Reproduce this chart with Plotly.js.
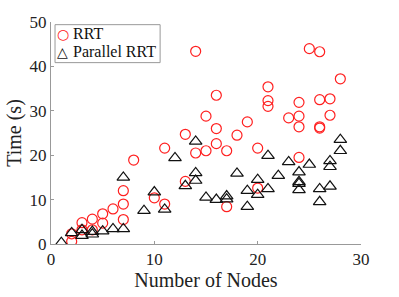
<!DOCTYPE html>
<html>
<head>
<meta charset="utf-8">
<script src="https://cdn.plot.ly/plotly-3.0.1.min.js"></script>
<style>html,body{margin:0;padding:0;background:#fff;}#chart{width:399px;height:297px;}</style>
</head>
<body>
<div id="chart"></div>
<script>
const rrtNodes = [2,2,3,3,4,4,5,5,6,7,7,7,8,10,11,11,13,13,14,14,15,15,16,16,16,17,17,18,19,20,20,21,21,21,23,24,24,24,24,25,26,26,26,26,27,27,28];
const rrtTime  = [0.6,2.3,4.8,3.2,5.6,3.2,6.8,4.7,7.9,12.0,9.0,5.5,18.9,10.4,21.6,9.0,24.7,14.1,43.4,20.5,28.8,21.0,33.5,26.0,22.6,21.0,8.4,24.5,27.5,21.6,12.6,35.4,32.3,31.0,28.4,31.9,28.8,26.4,19.5,44.0,43.3,32.5,26.4,26.1,32.7,29.0,37.2];
const parNodes = [1,2,3,3,4,4,5,6,7,7,9,10,11,12,13,14,14,14,15,16,17,17,18,19,19,20,20,21,21,22,23,24,24,24,24,25,26,26,27,27,27,28,28];
const parTime  = [0.3,2.5,3.2,1.9,2.8,2.2,2.9,3.4,3.4,15.0,7.5,11.7,7.8,19.4,13.1,23.1,16.0,14.3,10.5,10.0,10.8,10.1,15.9,12.0,8.4,14.5,11.1,19.9,12.4,15.4,18.5,16.2,14.0,13.6,12.2,17.9,12.4,9.5,18.7,17.4,13.0,23.5,21.0];
const xTicks = [0,10,20,30];
const yTicks = [0,10,20,30,40,50];
const seriesNames = ['RRT','Parallel RRT'];
const seriesColors = ['#ff2020','#111111'];
const legendGlyphs = ['\u25CB','\u25B3'];

const font = 'Liberation Serif, DejaVu Serif, serif';
const traces = [
  {x: rrtNodes, y: rrtTime, name: seriesNames[0], mode: 'markers', type: 'scatter',
   marker: {symbol: 'circle-open', size: 10, color: seriesColors[0], line: {width: 1.2, color: seriesColors[0]}}},
  {x: parNodes, y: parTime, name: seriesNames[1], mode: 'markers', type: 'scatter',
   marker: {symbol: 'triangle-up-open', size: 11, color: seriesColors[1], line: {width: 1.2, color: seriesColors[1]}}}
];
const axisCommon = {
  showgrid: false, zeroline: false, showline: true, linecolor: '#999', linewidth: 1,
  ticks: 'inside', ticklen: 3, tickcolor: '#999', mirror: false,
  tickfont: {family: font, size: 17, color: '#222'}
};
// legend drawn as a box with text entries (layout only)
const rowY = [0.948, 0.867];
const annotations = [];
seriesNames.forEach((n, i) => {
  annotations.push({xref: 'paper', yref: 'paper', x: 0.038, y: rowY[i], xanchor: 'center', yanchor: 'middle',
    text: legendGlyphs[i], showarrow: false, font: {family: 'DejaVu Sans', size: 14, color: seriesColors[i]}});
  annotations.push({xref: 'paper', yref: 'paper', x: 0.066, y: rowY[i], xanchor: 'left', yanchor: 'middle',
    text: n, showarrow: false, font: {family: font, size: 16, color: '#111'}});
});
const layout = {
  width: 399, height: 297,
  margin: {l: 51, r: 38, t: 22, b: 53},
  paper_bgcolor: '#fff', plot_bgcolor: '#fff',
  showlegend: false,
  xaxis: Object.assign({}, axisCommon, {range: [0, 30], tickvals: xTicks, ticktext: xTicks.map(String),
    title: {text: 'Number of Nodes', font: {family: font, size: 20, color: '#222'}, standoff: 4}}),
  yaxis: Object.assign({}, axisCommon, {range: [0, 50], tickvals: yTicks, ticktext: yTicks.map(String),
    title: {text: 'Time (s)', font: {family: font, size: 20, color: '#222'}, standoff: 2}}),
  shapes: [{type: 'rect', xref: 'paper', yref: 'paper', x0: 0.013, x1: 0.352, y0: 0.817, y1: 0.988,
    line: {color: '#999', width: 1}, fillcolor: '#fff', layer: 'above'}],
  annotations: annotations
};
Plotly.newPlot('chart', traces, layout, {staticPlot: true, displayModeBar: false});
</script>
</body>
</html>
